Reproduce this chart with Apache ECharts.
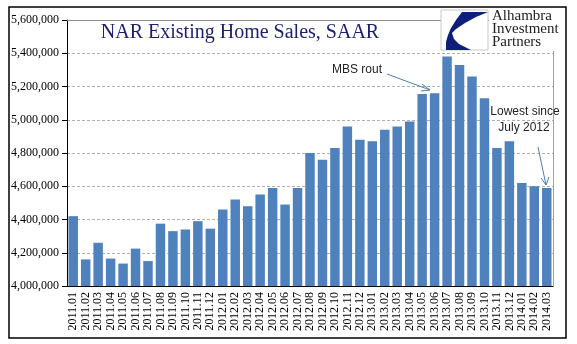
<!DOCTYPE html>
<html><head><meta charset="utf-8">
<script src="https://cdn.jsdelivr.net/npm/echarts@6/dist/echarts.min.js"></script>
<style>html,body{margin:0;padding:0;background:#fff}#c{width:577px;height:344px}</style>
</head><body><div id="c"></div>
<script>
const categories = ['2011.01','2011.02','2011.03','2011.04','2011.05','2011.06','2011.07','2011.08','2011.09','2011.10','2011.11','2011.12',
'2012.01','2012.02','2012.03','2012.04','2012.05','2012.06','2012.07','2012.08','2012.09','2012.10','2012.11','2012.12',
'2013.01','2013.02','2013.03','2013.04','2013.05','2013.06','2013.07','2013.08','2013.09','2013.10','2013.11','2013.12',
'2014.01','2014.02','2014.03'];
const sales = [4420000,4160000,4260000,4165000,4135000,4225000,4150000,4375000,4330000,4340000,4390000,4345000,
4460000,4520000,4480000,4550000,4590000,4490000,4590000,4800000,4760000,4830000,4960000,4880000,
4870000,4940000,4960000,4990000,5155000,5160000,5380000,5330000,5260000,5130000,4830000,4870000,
4620000,4600000,4590000];
const yMin = 4000000, yMax = 5600000, yStep = 200000;
const titleText = 'NAR Existing Home Sales, SAAR';

const chart = echarts.init(document.getElementById('c'), null, {renderer:'canvas'});
const serif = 'Liberation Serif, Times New Roman, serif';
const sans = 'Liberation Sans, Arial, sans-serif';
chart.setOption({
  animation:false,
  backgroundColor:'#fff',
  grid:{left:67,right:24,top:20,bottom:58,containLabel:false},
  xAxis:[{
    type:'category', data:categories,
    axisLine:{lineStyle:{color:'#000',width:1}},
    axisTick:{length:4,lineStyle:{color:'#000'}},
    axisLabel:{rotate:90,interval:0,fontFamily:serif,fontSize:12,color:'#000',margin:6}
  },{
    type:'category', data:categories, position:'top',
    axisLine:{lineStyle:{color:'#8c8c8c',width:1}},
    axisTick:{show:false}, axisLabel:{show:false}
  }],
  yAxis:[{
    type:'value', min:yMin, max:yMax, interval:yStep,
    axisLine:{show:true,lineStyle:{color:'#000',width:1}},
    axisTick:{show:true,length:5,lineStyle:{color:'#000'}},
    axisLabel:{fontFamily:serif,fontSize:12,color:'#000',margin:8,
      formatter:v=>v.toLocaleString('en-US')},
    splitLine:{lineStyle:{color:'#b0b0b0',type:[3,2],width:1}}
  },{
    type:'value', min:yMin, max:yMax, interval:yStep, position:'right',
    axisLine:{show:true,lineStyle:{color:'#a0a0a0',width:1}},
    axisTick:{show:false}, axisLabel:{show:false}, splitLine:{show:false}
  }],
  series:[{
    type:'bar', data:sales, barCategoryGap:'24%',
    itemStyle:{color:'#4F81BD'}
  }],
  graphic:[
    {type:'rect',shape:{x:9,y:7,width:557,height:331},style:{fill:'none',stroke:'#000',lineWidth:1.5},z:100},
    {type:'text',style:{text:titleText,x:240,y:33,align:'center',verticalAlign:'middle',
      font:'20px '+serif,fill:'#1c1f6e'},z:100},
    {type:'rect',shape:{x:441,y:10,width:47,height:40},style:{fill:'#fff',stroke:'#c8c8c8',lineWidth:1},z:100},
    {type:'rect',shape:{x:489,y:8,width:73,height:43},style:{fill:'#fff'},z:99},
    {type:'polygon',shape:{points:[[462,12],[488,12],[476,17],[465,23],[456,29],[452,33],[454,39],[459,44],[465,47],[471,50],[446,50],[446,42],[448,35],[451,28],[456,20]]},
      style:{fill:'#0d1f7a'},z:101},
    {type:'text',style:{text:'Alhambra',x:492,y:16,verticalAlign:'middle',font:'15px '+serif,fill:'#222'},z:101},
    {type:'text',style:{text:'Investment',x:492,y:29,verticalAlign:'middle',font:'15px '+serif,fill:'#222'},z:101},
    {type:'text',style:{text:'Partners',x:492,y:42,verticalAlign:'middle',font:'15px '+serif,fill:'#222'},z:101},
    {type:'text',style:{text:'MBS rout',x:332,y:70,verticalAlign:'middle',font:'12px '+sans,fill:'#222'},z:101},
    {type:'line',shape:{x1:387,y1:74,x2:430,y2:90},style:{stroke:'#4F7DB8',lineWidth:1},z:101},
    {type:'polyline',shape:{points:[[422,84],[430,90],[421,91]]},style:{stroke:'#4F7DB8',lineWidth:1,fill:null},z:101},
    {type:'text',style:{text:'Lowest since',x:525,y:112,align:'center',verticalAlign:'middle',font:'12px '+sans,fill:'#222'},z:101},
    {type:'text',style:{text:'July 2012',x:524,y:128,align:'center',verticalAlign:'middle',font:'12px '+sans,fill:'#222'},z:101},
    {type:'line',shape:{x1:538,y1:147,x2:546,y2:185},style:{stroke:'#4F7DB8',lineWidth:1},z:101},
    {type:'polyline',shape:{points:[[541,178],[546,185],[549,177]]},style:{stroke:'#4F7DB8',lineWidth:1,fill:null},z:101}
  ]
});
</script></body></html>
